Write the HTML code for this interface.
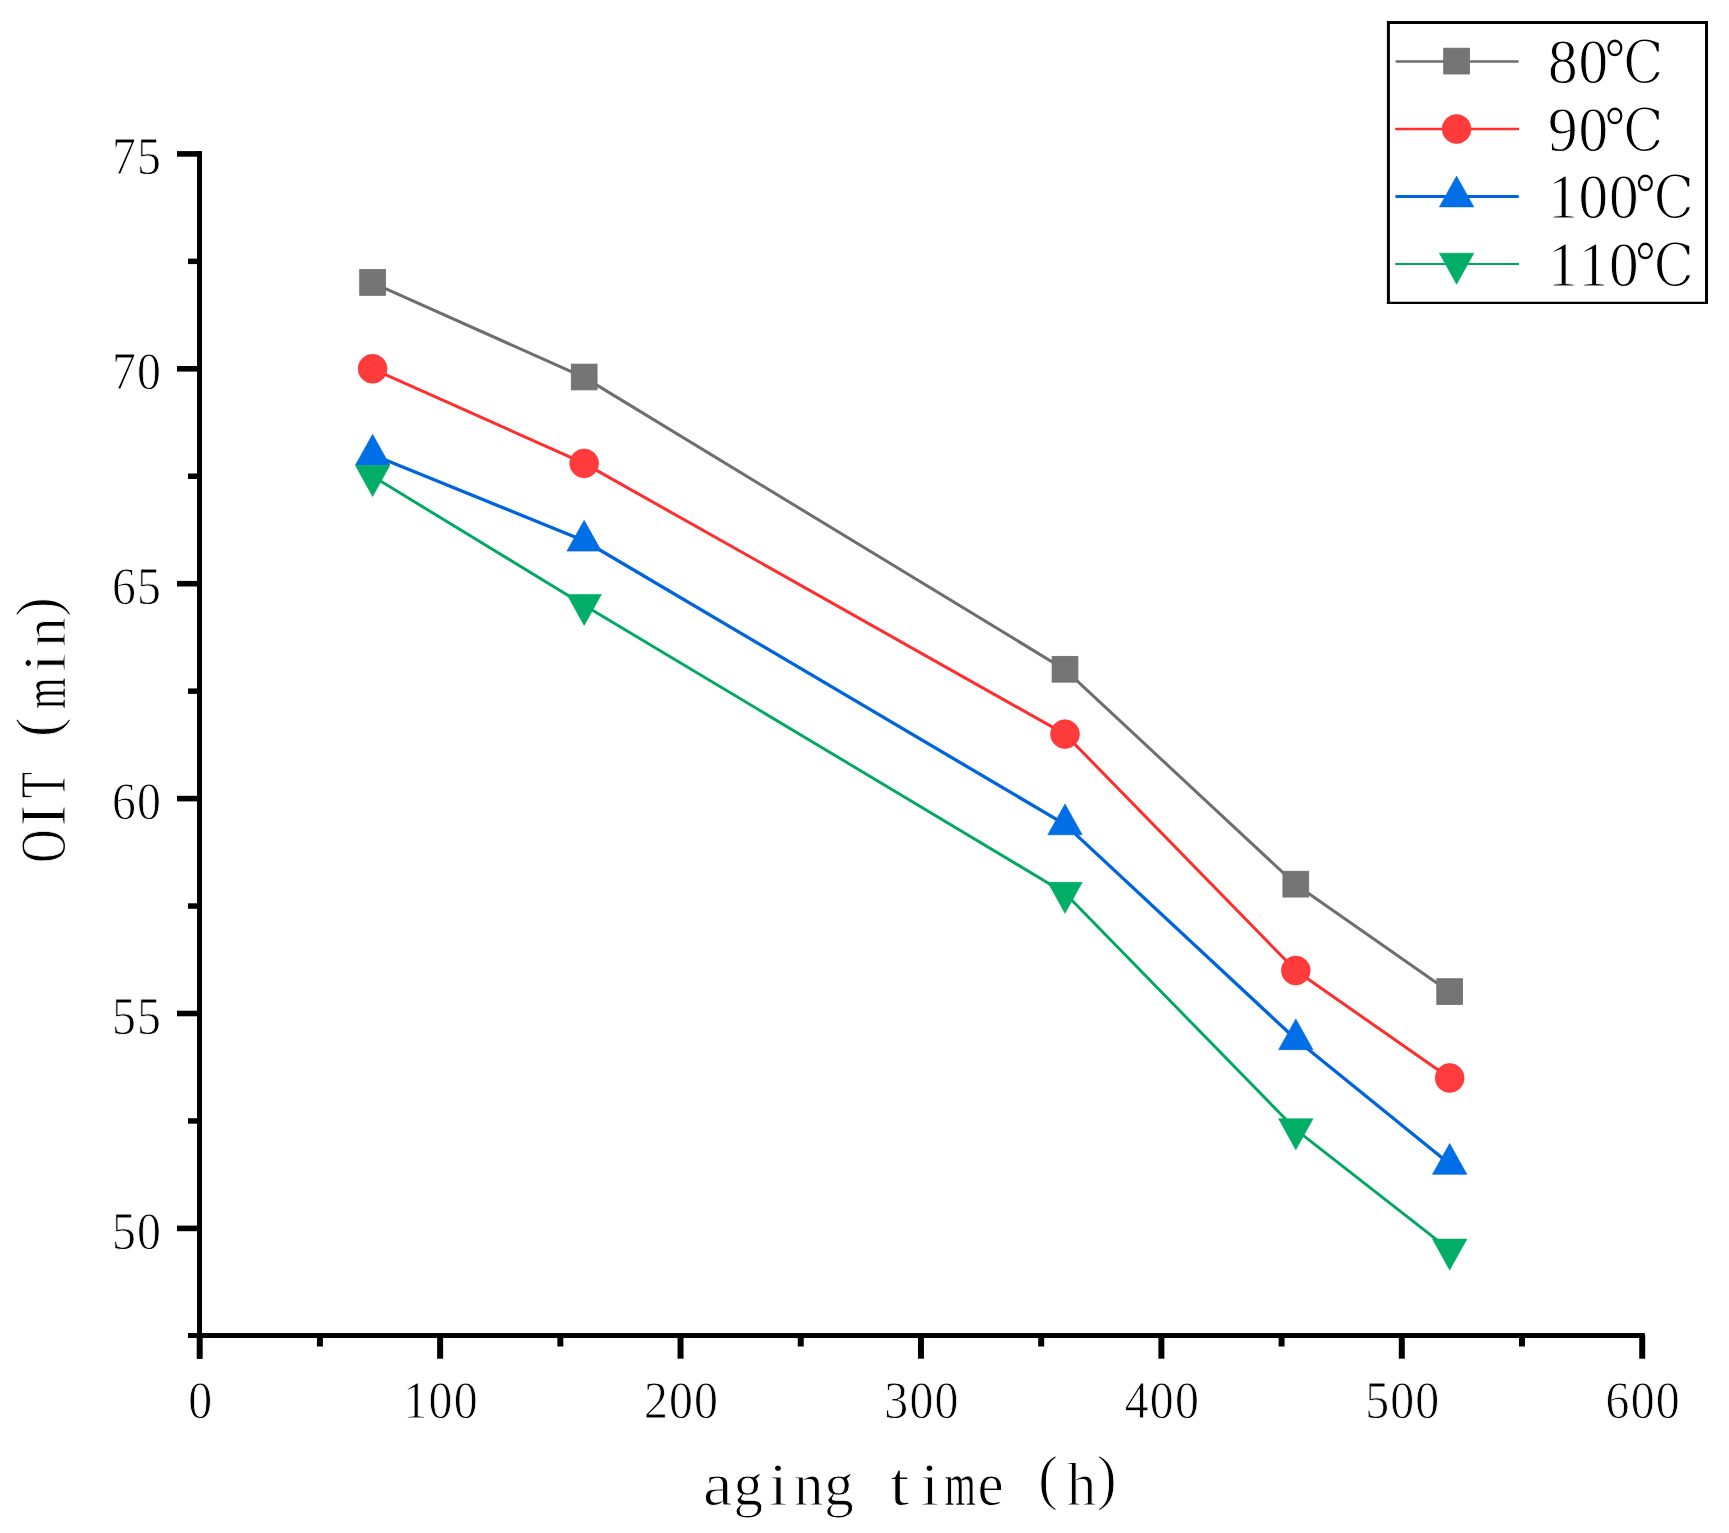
<!DOCTYPE html>
<html lang="en"><head><meta charset="utf-8"><title>OIT vs aging time</title>
<style>
html,body{margin:0;padding:0;background:#fff}
body{width:1729px;height:1533px;overflow:hidden}
svg{display:block}
text{font-family:"Liberation Serif","Noto Serif CJK SC",serif;fill:#000;stroke:#fff;stroke-width:.8px}
.tk{font-size:52.0px}
.tt{font-size:62.0px;stroke-width:1px}
.lg{font-size:63.7px;stroke-width:1px}
.m{stroke-width:.4px}
.dg{font-family:"DejaVu Serif","Noto Serif CJK SC",serif;font-size:60px;stroke-width:1.5px}
</style></head><body>
<svg width="1729" height="1533" viewBox="0 0 1729 1533">
<rect width="1729" height="1533" fill="#fff"/>
<g stroke="#000" fill="none" stroke-linecap="butt">
<line x1="199.5" y1="151" x2="199.5" y2="1358.7" stroke-width="5"/>
<line x1="188" y1="1335.5" x2="1644.8" y2="1335.5" stroke-width="5"/>
<line x1="177" y1="1228.40" x2="199" y2="1228.40" stroke-width="5.6"/>
<line x1="177" y1="1013.50" x2="199" y2="1013.50" stroke-width="5.6"/>
<line x1="177" y1="798.60" x2="199" y2="798.60" stroke-width="5.6"/>
<line x1="177" y1="583.70" x2="199" y2="583.70" stroke-width="5.6"/>
<line x1="177" y1="368.80" x2="199" y2="368.80" stroke-width="5.6"/>
<line x1="177" y1="153.90" x2="199" y2="153.90" stroke-width="5.6"/>
<line x1="188" y1="1120.95" x2="199" y2="1120.95" stroke-width="5.5"/>
<line x1="188" y1="906.05" x2="199" y2="906.05" stroke-width="5.5"/>
<line x1="188" y1="691.15" x2="199" y2="691.15" stroke-width="5.5"/>
<line x1="188" y1="476.25" x2="199" y2="476.25" stroke-width="5.5"/>
<line x1="188" y1="261.35" x2="199" y2="261.35" stroke-width="5.5"/>
<line x1="199.70" y1="1335" x2="199.70" y2="1358.7" stroke-width="6"/>
<line x1="440.12" y1="1335" x2="440.12" y2="1358.7" stroke-width="6"/>
<line x1="680.54" y1="1335" x2="680.54" y2="1358.7" stroke-width="6"/>
<line x1="920.96" y1="1335" x2="920.96" y2="1358.7" stroke-width="6"/>
<line x1="1161.38" y1="1335" x2="1161.38" y2="1358.7" stroke-width="6"/>
<line x1="1401.80" y1="1335" x2="1401.80" y2="1358.7" stroke-width="6"/>
<line x1="1642.22" y1="1335" x2="1642.22" y2="1358.7" stroke-width="6"/>
<line x1="319.91" y1="1335" x2="319.91" y2="1346.5" stroke-width="6"/>
<line x1="560.33" y1="1335" x2="560.33" y2="1346.5" stroke-width="6"/>
<line x1="800.75" y1="1335" x2="800.75" y2="1346.5" stroke-width="6"/>
<line x1="1041.17" y1="1335" x2="1041.17" y2="1346.5" stroke-width="6"/>
<line x1="1281.59" y1="1335" x2="1281.59" y2="1346.5" stroke-width="6"/>
<line x1="1522.01" y1="1335" x2="1522.01" y2="1346.5" stroke-width="6"/>
</g>
<text class="tk" aria-label="50" text-anchor="middle" x="134.62 161.90" y="0" transform="translate(0.00,1248.70) scale(0.92,1)">50</text>
<text class="tk" aria-label="55" text-anchor="middle" x="134.62 161.90" y="0" transform="translate(0.00,1033.80) scale(0.92,1)">55</text>
<text class="tk" aria-label="60" text-anchor="middle" x="134.62 161.90" y="0" transform="translate(0.00,818.90) scale(0.92,1)">60</text>
<text class="tk" aria-label="65" text-anchor="middle" x="134.62 161.90" y="0" transform="translate(0.00,604.00) scale(0.92,1)">65</text>
<text class="tk" aria-label="70" text-anchor="middle" x="134.62 161.90" y="0" transform="translate(0.00,389.10) scale(0.92,1)">70</text>
<text class="tk" aria-label="75" text-anchor="middle" x="134.62 161.90" y="0" transform="translate(0.00,174.20) scale(0.92,1)">75</text>
<text class="tk" aria-label="0" text-anchor="middle" x="217.50" y="0" transform="translate(0.00,1418.00) scale(0.92,1)">0</text>
<text class="tk" aria-label="100" text-anchor="middle" x="451.54 478.83 506.11" y="0" transform="translate(0.00,1418.00) scale(0.92,1)">100</text>
<text class="tk" aria-label="200" text-anchor="middle" x="712.87 740.15 767.43" y="0" transform="translate(0.00,1418.00) scale(0.92,1)">200</text>
<text class="tk" aria-label="300" text-anchor="middle" x="974.20 1001.48 1028.76" y="0" transform="translate(0.00,1418.00) scale(0.92,1)">300</text>
<text class="tk" aria-label="400" text-anchor="middle" x="1235.52 1262.80 1290.09" y="0" transform="translate(0.00,1418.00) scale(0.92,1)">400</text>
<text class="tk" aria-label="500" text-anchor="middle" x="1496.85 1524.13 1551.41" y="0" transform="translate(0.00,1418.00) scale(0.92,1)">500</text>
<text class="tk" aria-label="600" text-anchor="middle" x="1758.17 1785.46 1812.74" y="0" transform="translate(0.00,1418.00) scale(0.92,1)">600</text>
<polyline points="372.60,282.84 584.17,377.40 1065.01,669.66 1295.82,884.56 1449.68,992.01" fill="none" stroke="#6e6e6e" stroke-width="3.0" stroke-linejoin="round"/>
<polyline points="372.60,368.80 584.17,463.36 1065.01,734.13 1295.82,970.52 1449.68,1077.97" fill="none" stroke="#ff2e2e" stroke-width="3.0" stroke-linejoin="round"/>
<polyline points="372.60,454.76 584.17,540.72 1065.01,824.39 1295.82,1039.29 1449.68,1163.93" fill="none" stroke="#0064de" stroke-width="3.3" stroke-linejoin="round"/>
<polyline points="372.60,476.25 584.17,605.19 1065.01,893.16 1295.82,1129.55 1449.68,1249.89" fill="none" stroke="#00a860" stroke-width="2.9" stroke-linejoin="round"/>
<rect x="359.70" y="269.54" width="25.8" height="25.8" fill="#757575" stroke="#6e6e6e" stroke-width="0.8"/>
<rect x="571.27" y="364.10" width="25.8" height="25.8" fill="#757575" stroke="#6e6e6e" stroke-width="0.8"/>
<rect x="1052.11" y="656.36" width="25.8" height="25.8" fill="#757575" stroke="#6e6e6e" stroke-width="0.8"/>
<rect x="1282.92" y="871.26" width="25.8" height="25.8" fill="#757575" stroke="#6e6e6e" stroke-width="0.8"/>
<rect x="1436.78" y="978.71" width="25.8" height="25.8" fill="#757575" stroke="#6e6e6e" stroke-width="0.8"/>
<circle cx="372.60" cy="368.80" r="14.45" fill="#ff3b3b" stroke="#ff2e2e" stroke-width="0.6"/>
<circle cx="584.17" cy="463.36" r="14.45" fill="#ff3b3b" stroke="#ff2e2e" stroke-width="0.6"/>
<circle cx="1065.01" cy="734.13" r="14.45" fill="#ff3b3b" stroke="#ff2e2e" stroke-width="0.6"/>
<circle cx="1295.82" cy="970.52" r="14.45" fill="#ff3b3b" stroke="#ff2e2e" stroke-width="0.6"/>
<circle cx="1449.68" cy="1077.97" r="14.45" fill="#ff3b3b" stroke="#ff2e2e" stroke-width="0.6"/>
<polygon points="372.60,434.36 389.80,465.16 355.40,465.16" fill="#006ee6" stroke="#0064de" stroke-width="0.6"/>
<polygon points="584.17,520.32 601.37,551.12 566.97,551.12" fill="#006ee6" stroke="#0064de" stroke-width="0.6"/>
<polygon points="1065.01,803.99 1082.21,834.79 1047.81,834.79" fill="#006ee6" stroke="#0064de" stroke-width="0.6"/>
<polygon points="1295.82,1018.89 1313.02,1049.69 1278.62,1049.69" fill="#006ee6" stroke="#0064de" stroke-width="0.6"/>
<polygon points="1449.68,1143.53 1466.88,1174.33 1432.48,1174.33" fill="#006ee6" stroke="#0064de" stroke-width="0.6"/>
<polygon points="372.60,496.45 389.80,465.45 355.40,465.45" fill="#00ae68" stroke="#00a860" stroke-width="0.6"/>
<polygon points="584.17,625.39 601.37,594.39 566.97,594.39" fill="#00ae68" stroke="#00a860" stroke-width="0.6"/>
<polygon points="1065.01,913.36 1082.21,882.36 1047.81,882.36" fill="#00ae68" stroke="#00a860" stroke-width="0.6"/>
<polygon points="1295.82,1149.75 1313.02,1118.75 1278.62,1118.75" fill="#00ae68" stroke="#00a860" stroke-width="0.6"/>
<polygon points="1449.68,1270.09 1466.88,1239.09 1432.48,1239.09" fill="#00ae68" stroke="#00a860" stroke-width="0.6"/>
<rect x="1388.4" y="22.6" width="318.1" height="280" fill="#fff"/>
<path d="M1388.4 304V22.6H1706.5V304" fill="none" stroke="#000" stroke-width="3" stroke-linejoin="miter"/>
<line x1="1386.9" y1="302.9" x2="1708" y2="302.9" stroke="#000" stroke-width="2.2"/>
<line x1="1396.7" y1="61.5" x2="1517.5" y2="61.5" stroke="#6e6e6e" stroke-width="2.6" stroke-linecap="round"/>
<rect x="1443.70" y="48.20" width="25.8" height="25.8" fill="#757575" stroke="#6e6e6e" stroke-width="0.8"/>
<text class="lg" aria-label="80℃" text-anchor="middle" x="1680.38 1713.17 1756.99" y="0" transform="translate(0.00,83.40) scale(0.93,1)">80<tspan class="dg" textLength="63.96" lengthAdjust="spacingAndGlyphs">℃</tspan></text>
<line x1="1395.2" y1="129" x2="1519" y2="129" stroke="#ff2e2e" stroke-width="2.3"/>
<circle cx="1456.60" cy="129.00" r="14.45" fill="#ff3b3b" stroke="#ff2e2e" stroke-width="0.6"/>
<text class="lg" aria-label="90℃" text-anchor="middle" x="1680.38 1713.17 1756.99" y="0" transform="translate(0.00,150.90) scale(0.93,1)">90<tspan class="dg" textLength="63.96" lengthAdjust="spacingAndGlyphs">℃</tspan></text>
<line x1="1396.7" y1="196.5" x2="1517.5" y2="196.5" stroke="#0064de" stroke-width="3.1" stroke-linecap="round"/>
<polygon points="1456.60,176.10 1473.80,206.90 1439.40,206.90" fill="#006ee6" stroke="#0064de" stroke-width="0.6"/>
<text class="lg" aria-label="100℃" text-anchor="middle" x="1680.38 1713.17 1745.97 1789.78" y="0" transform="translate(0.00,218.40) scale(0.93,1)">100<tspan class="dg" textLength="63.96" lengthAdjust="spacingAndGlyphs">℃</tspan></text>
<line x1="1395.2" y1="264" x2="1519" y2="264" stroke="#00a860" stroke-width="2.1"/>
<polygon points="1456.60,284.20 1473.80,253.20 1439.40,253.20" fill="#00ae68" stroke="#00a860" stroke-width="0.6"/>
<text class="lg" aria-label="110℃" text-anchor="middle" x="1680.38 1713.17 1745.97 1789.78" y="0" transform="translate(0.00,285.90) scale(0.93,1)">110<tspan class="dg" textLength="63.96" lengthAdjust="spacingAndGlyphs">℃</tspan></text>
<text class="tt" aria-label="aging time (h)" text-anchor="middle" x="755.63 787.53 819.42 851.32 883.21 915.11 947.00 978.89 1010.79 1042.68 1074.58 1103.32 1138.37 1165.00" y="0 0 0 0 0 0 0 0 0 0 0 -7 0 -7" transform="translate(0.00,1505.00) scale(0.95,1)"><tspan textLength="31.11" lengthAdjust="spacingAndGlyphs">a</tspan>g<tspan textLength="19.30" lengthAdjust="spacingAndGlyphs">i</tspan>ng <tspan textLength="20.68" lengthAdjust="spacingAndGlyphs">t</tspan><tspan textLength="19.30" lengthAdjust="spacingAndGlyphs">i</tspan><tspan class="m" textLength="32.61" lengthAdjust="spacingAndGlyphs">m</tspan>e (h)</text>
<text class="tt" aria-label="OIT (min)" text-anchor="middle" x="16.11 48.32 80.53 112.74 141.26 177.16 209.37 241.58 268.00" y="0 0 0 0 -7 0 0 0 -7" transform="translate(65.00,861.50) rotate(-90) scale(0.95,1)"><tspan font-size="66" textLength="35.02" lengthAdjust="spacingAndGlyphs">O</tspan><tspan font-size="66" textLength="23.08" lengthAdjust="spacingAndGlyphs">I</tspan><tspan font-size="66" textLength="27.42" lengthAdjust="spacingAndGlyphs">T</tspan> (<tspan class="m" textLength="32.61" lengthAdjust="spacingAndGlyphs">m</tspan><tspan textLength="19.30" lengthAdjust="spacingAndGlyphs">i</tspan>n)</text>
</svg></body></html>
